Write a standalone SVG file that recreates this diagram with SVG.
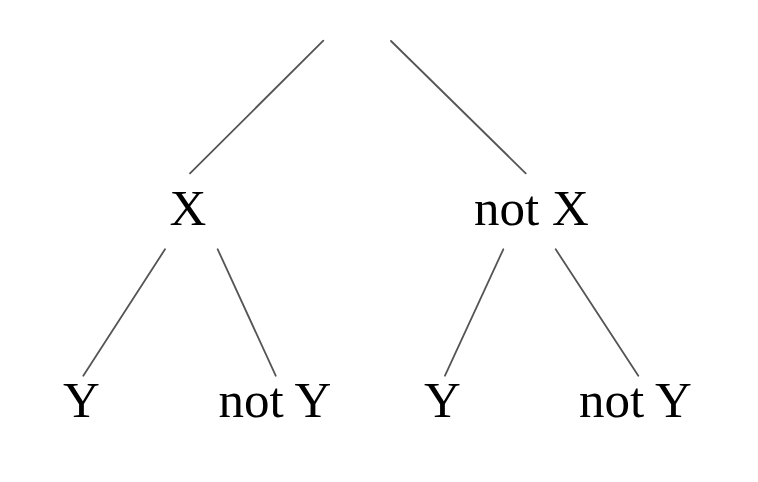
<svg xmlns="http://www.w3.org/2000/svg" width="758" height="482" viewBox="0 0 758 482">
<style>
.lbl{font-family:"Liberation Serif","Times New Roman",serif;font-size:51px;fill:#000}
.edge{stroke:#555;stroke-width:1.8;fill:none;stroke-linecap:round}
</style>
<rect width="758" height="482" fill="#fff"/>
<g id="connectors">
<line class="edge" x1="323.3" y1="40.7" x2="190" y2="173.3"/>
<line class="edge" x1="391" y1="41" x2="525.7" y2="173.3"/>
<line class="edge" x1="165" y1="249.3" x2="83.3" y2="375.7"/>
<line class="edge" x1="217.7" y1="249.3" x2="275.7" y2="375.7"/>
<line class="edge" x1="503.3" y1="249.3" x2="445" y2="375.7"/>
<line class="edge" x1="555.7" y1="249.3" x2="638.3" y2="375.7"/>
</g>
<g id="node-x"><text class="lbl" x="169.5" y="225">X</text></g>
<g id="node-notx"><text class="lbl" x="474" y="225">not X</text></g>
<g id="node-x-y"><text class="lbl" x="63" y="417">Y</text></g>
<g id="node-x-noty"><text class="lbl" x="218.5" y="417">not Y</text></g>
<g id="node-notx-y"><text class="lbl" x="424" y="417">Y</text></g>
<g id="node-notx-noty"><text class="lbl" x="579" y="417">not Y</text></g>
</svg>
